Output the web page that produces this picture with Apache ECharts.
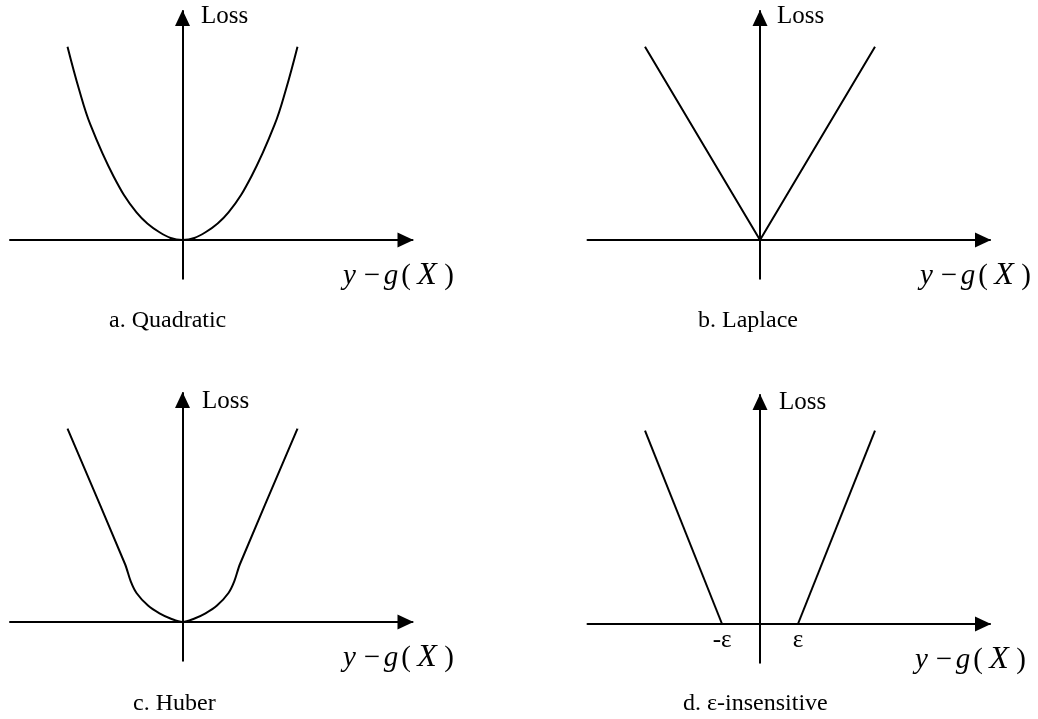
<!DOCTYPE html>
<html>
<head>
<meta charset="utf-8">
<script src="https://cdn.jsdelivr.net/npm/echarts@6/dist/echarts.min.js"></script>
<style>
html,body{margin:0;padding:0;background:#fff;}
#chart{width:1038px;height:719px;}
</style>
</head>
<body>
<div id="chart"></div>
<script>
// ---- Data (arbitrary units) ----
const quadX = [-5, -4.5, -4, -3, -2, -1, 0, 1, 2, 3, 4, 4.5, 5];
const quadY = [10, 7.8, 5.95, 3.3, 1.43, 0.4, 0, 0.4, 1.43, 3.3, 5.95, 7.8, 10];

const lapX = [-5, 0, 5];
const lapY = [10, 0, 10];

const hubX = [-5, -2.5, -2.25, -2, -1.5, -1, -0.5, 0, 0.5, 1, 1.5, 2, 2.25, 2.5, 5];
const hubY = [10, 3.0, 2.1, 1.5, 0.85, 0.45, 0.17, 0, 0.17, 0.45, 0.85, 1.5, 2.1, 3.0, 10];

const epsLeftX = [-5, -1.65];
const epsLeftY = [10, 0];
const epsRightX = [1.65, 5];
const epsRightY = [0, 10];

const epsTicks = [-1.65, 1.65];
const epsTickLabels = ['-ε', 'ε'];

const captions = ['a. Quadratic', 'b. Laplace', 'c. Huber', 'd. ε-insensitive'];
const yName = 'Loss';

// ---- Layout ----
const FONT = "'Liberation Serif', 'Times New Roman', serif";
const X_MIN = -7.5, X_MAX = 10, Y_MIN = -2, Y_MAX = 11.85;
const PX_X = 23, PX_Y = 19.333;
const GW = (X_MAX - X_MIN) * PX_X, GH = (Y_MAX - Y_MIN) * PX_Y;
const originY = [240, 240, 622, 624];
const grids = [
  {left: 10,    top: originY[0] - Y_MAX * PX_Y},
  {left: 587.5, top: originY[1] - Y_MAX * PX_Y},
  {left: 10,    top: originY[2] - Y_MAX * PX_Y},
  {left: 587.5, top: originY[3] - Y_MAX * PX_Y}
];

function zip(xs, ys) { return xs.map((x, i) => [x, ys[i]]); }

function mkAxisLine(onZero) {
  return {
    show: true,
    onZero: onZero,
    symbol: ['none', 'triangle'],
    symbolSize: [15, 16],
    symbolOffset: [0, -7],
    lineStyle: {color: '#000', width: 2}
  };
}

const xAxes = grids.map((g, i) => ({
  type: 'value', gridIndex: i, min: X_MIN, max: X_MAX,
  position: 'bottom',
  offset: Y_MIN * PX_Y,
  axisLine: mkAxisLine(false),
  axisTick: {show: false},
  splitLine: {show: false},
  axisLabel: i === 3 ? {
    show: true,
    customValues: epsTicks,
    margin: 4,
    formatter: v => epsTickLabels[epsTicks.indexOf(v)],
    fontFamily: FONT, fontSize: 25, color: '#000'
  } : {show: false}
}));

const yAxes = grids.map((g, i) => ({
  type: 'value', gridIndex: i, min: Y_MIN, max: Y_MAX,
  axisLine: mkAxisLine(true),
  axisTick: {show: false},
  splitLine: {show: false},
  axisLabel: {show: false}
}));

const lineStyle = {color: '#000', width: 2};
function mkSeries(i, data, smooth) {
  return {
    type: 'line', xAxisIndex: i, yAxisIndex: i, data: data,
    smooth: smooth, showSymbol: false, symbol: 'none',
    lineStyle: lineStyle, silent: true, animation: false
  };
}

const series = [
  mkSeries(0, zip(quadX, quadY), 0.4),
  mkSeries(1, zip(lapX, lapY), false),
  mkSeries(2, zip(hubX, hubY), 0.3),
  mkSeries(3, zip(epsLeftX, epsLeftY), false),
  mkSeries(3, zip(epsRightX, epsRightY), false)
];

const textBase = {fontFamily: FONT, fontSize: 24, fontWeight: 'normal', color: '#000'};
const lossStyle = {fontFamily: FONT, fontSize: 25, fontWeight: 'normal', color: '#000'};
const XF = 29;
const richX = {
  i: {fontFamily: FONT, fontSize: XF, fontStyle: 'italic', color: '#000', width: 20},
  m: {fontFamily: FONT, fontSize: XF, color: '#000', width: 18, align: 'center'},
  g: {fontFamily: FONT, fontSize: XF, fontStyle: 'italic', color: '#000', width: 20},
  p: {fontFamily: FONT, fontSize: XF, color: '#000', width: 10},
  x: {fontFamily: FONT, fontSize: 32, fontStyle: 'italic', color: '#000', width: 32, align: 'center'},
  q: {fontFamily: FONT, fontSize: XF, color: '#000', width: 12}
};
const xNameText = '{i|y}{m|−}{g|g}{p|(}{x|X}{q|)}';

const lossPos = [[201, 4], [777, 4], [202, 389], [779, 390]];
const xNamePos = [[343, 260], [920, 260], [343, 642], [915, 644]];
const capPos = [[109, 309], [698, 309], [133, 692], [683, 692]];

const titles = [];
for (let i = 0; i < 4; i++) {
  titles.push({text: yName, left: lossPos[i][0], top: lossPos[i][1], padding: 0, textStyle: lossStyle});
  titles.push({text: xNameText, left: xNamePos[i][0], top: xNamePos[i][1], padding: 0,
    textStyle: Object.assign({}, textBase, {rich: richX})});
  titles.push({text: captions[i], left: capPos[i][0], top: capPos[i][1], padding: 0, textStyle: textBase});
}

const chart = echarts.init(document.getElementById('chart'), null, {renderer: 'canvas'});
chart.setOption({
  backgroundColor: '#fff',
  animation: false,
  title: titles,
  grid: grids.map(g => ({left: g.left, top: g.top, width: GW, height: GH, containLabel: false})),
  xAxis: xAxes,
  yAxis: yAxes,
  series: series
});
</script>
</body>
</html>
